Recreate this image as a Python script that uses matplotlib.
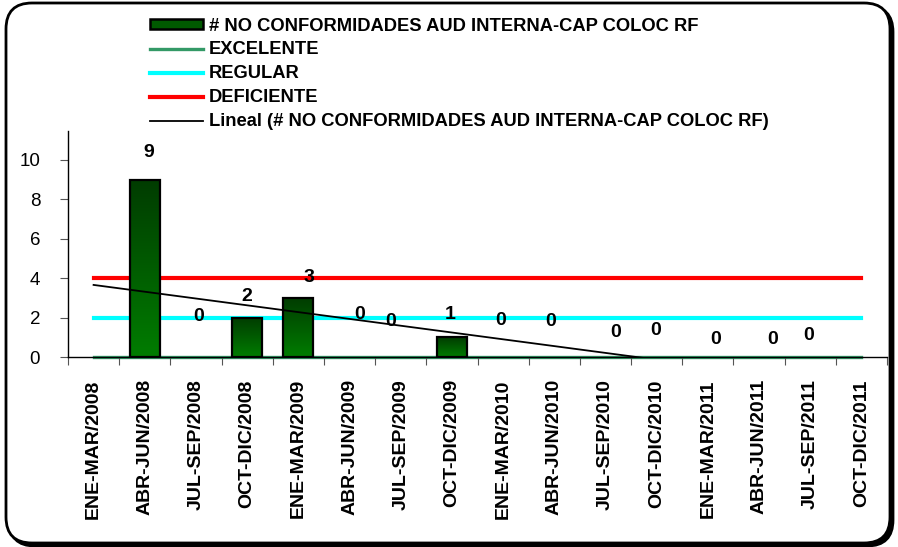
import numpy as np
import matplotlib.pyplot as plt
from matplotlib.patches import FancyBboxPatch, Patch
from matplotlib.lines import Line2D
from matplotlib.transforms import IdentityTransform
from matplotlib.colors import LinearSegmentedColormap

plt.rcParams['font.family'] = ['Liberation Sans', 'DejaVu Sans']

periodos = ['ENE-MAR/2008', 'ABR-JUN/2008', 'JUL-SEP/2008', 'OCT-DIC/2008',
            'ENE-MAR/2009', 'ABR-JUN/2009', 'JUL-SEP/2009', 'OCT-DIC/2009',
            'ENE-MAR/2010', 'ABR-JUN/2010', 'JUL-SEP/2010', 'OCT-DIC/2010',
            'ENE-MAR/2011', 'ABR-JUN/2011', 'JUL-SEP/2011', 'OCT-DIC/2011']
# None = sin dato
no_conformidades = [None, 9, 0, 2, 3, 0, 0, 1, 0, 0, 0, 0, 0, 0, 0, None]
excelente = [0] * 16
regular = [2] * 16
deficiente = [4] * 16

# ajuste manual de las etiquetas (dx en categorias, y en unidades del eje)
etiqueta_dx = [0, 0.08, 0.05, 0, 0.2, 0.2, -0.2, -0.04, -0.05, -0.08, 0.2, -0.02, 0.16, 0.27, -0.04, 0]
etiqueta_y = [0, 10.4, 2.08, 3.05, 4.06, 2.18, 1.78, 2.18, 1.83, 1.78, 1.27, 1.37, 0.91, 0.91, 1.07, 0]

fig = plt.figure(figsize=(8.98, 5.47), dpi=100)
ax = fig.add_axes([0.0757, 0.3473, 0.9121, 0.4132])
ax.set_facecolor('none')

x = np.arange(len(periodos))
idx = [i for i, v in enumerate(no_conformidades) if v is not None]
vals = np.array([no_conformidades[i] for i in idx], dtype=float)

# barras con degradado
ancho = 0.58
grad = np.linspace(0, 1, 100).reshape(-1, 1)
cmap = LinearSegmentedColormap.from_list('verde', ['#007c00', '#003c00'])
for i, v in zip(idx, vals):
    if v > 0:
        ax.imshow(grad, extent=[i - ancho / 2, i + ancho / 2, 0, v], origin='lower',
                  cmap=cmap, aspect='auto', zorder=2)
        ax.bar(i, v, width=ancho, facecolor='none', edgecolor='black', linewidth=1.6, zorder=3)

ax.plot(x, excelente, color='#339966', linewidth=2.4, zorder=1.5, clip_on=False)
ax.plot(x, regular, color='#00ffff', linewidth=3, zorder=1.5)
ax.plot(x, deficiente, color='#ff0000', linewidth=3, zorder=1.5)

# tendencia lineal
m, b = np.polyfit(np.array(idx, dtype=float), vals, 1)
tend = m * x + b
ax.plot(x, tend, color='black', linewidth=1.3, zorder=4)

for i, v in zip(idx, vals):
    ax.text(i + etiqueta_dx[i], etiqueta_y[i], '%d' % v, ha='center', va='center',
            fontsize=14, fontweight='bold', zorder=5)

ax.set_xlim(-0.5, len(periodos) - 0.5)
ax.set_ylim(0, 11.47)
ax.set_yticks(range(0, 11, 2))
ax.set_xticks(x)
ax.set_xticklabels(periodos, rotation=90, fontsize=14, fontweight='bold', va='top')
ax.set_xticks(np.arange(-0.5, len(periodos)), minor=True)
ax.tick_params(axis='x', which='major', length=0, pad=16)
ax.tick_params(axis='x', which='minor', length=6, width=0.8, color='#555555')
ax.tick_params(axis='y', length=6, width=0.8, color='#555555', labelsize=13.5, pad=14)
for s in ['top', 'right']:
    ax.spines[s].set_visible(False)
ax.spines['left'].set_linewidth(1)
ax.spines['bottom'].set_linewidth(1)

handles = [Patch(facecolor='#005a00', edgecolor='black', linewidth=1.8),
           Line2D([], [], color='#339966', linewidth=2.4),
           Line2D([], [], color='#00ffff', linewidth=3),
           Line2D([], [], color='#ff0000', linewidth=3),
           Line2D([], [], color='black', linewidth=1.3)]
labels = ['# NO CONFORMIDADES AUD INTERNA-CAP COLOC RF', 'EXCELENTE', 'REGULAR',
          'DEFICIENTE', 'Lineal (# NO CONFORMIDADES AUD INTERNA-CAP COLOC RF)']
fig.legend(handles, labels, loc='upper left', bbox_to_anchor=(0.167, 0.968), frameon=False,
           prop={'weight': 'bold', 'size': 13.2}, handlelength=2.9, handleheight=0.4,
           handletextpad=0.3, labelspacing=0.38, borderpad=0, borderaxespad=0)

# marco redondeado con sombra
sombra = FancyBboxPatch((9, 1), 884, 540, boxstyle='round,pad=0,rounding_size=26',
                        transform=IdentityTransform(), facecolor='black', edgecolor='black',
                        linewidth=2, zorder=-2)
marco = FancyBboxPatch((6, 4), 884, 540, boxstyle='round,pad=0,rounding_size=26',
                       transform=IdentityTransform(), facecolor='white', edgecolor='black',
                       linewidth=2, zorder=-1)
fig.patches.extend([sombra, marco])

fig.savefig('out.png', dpi=100)
